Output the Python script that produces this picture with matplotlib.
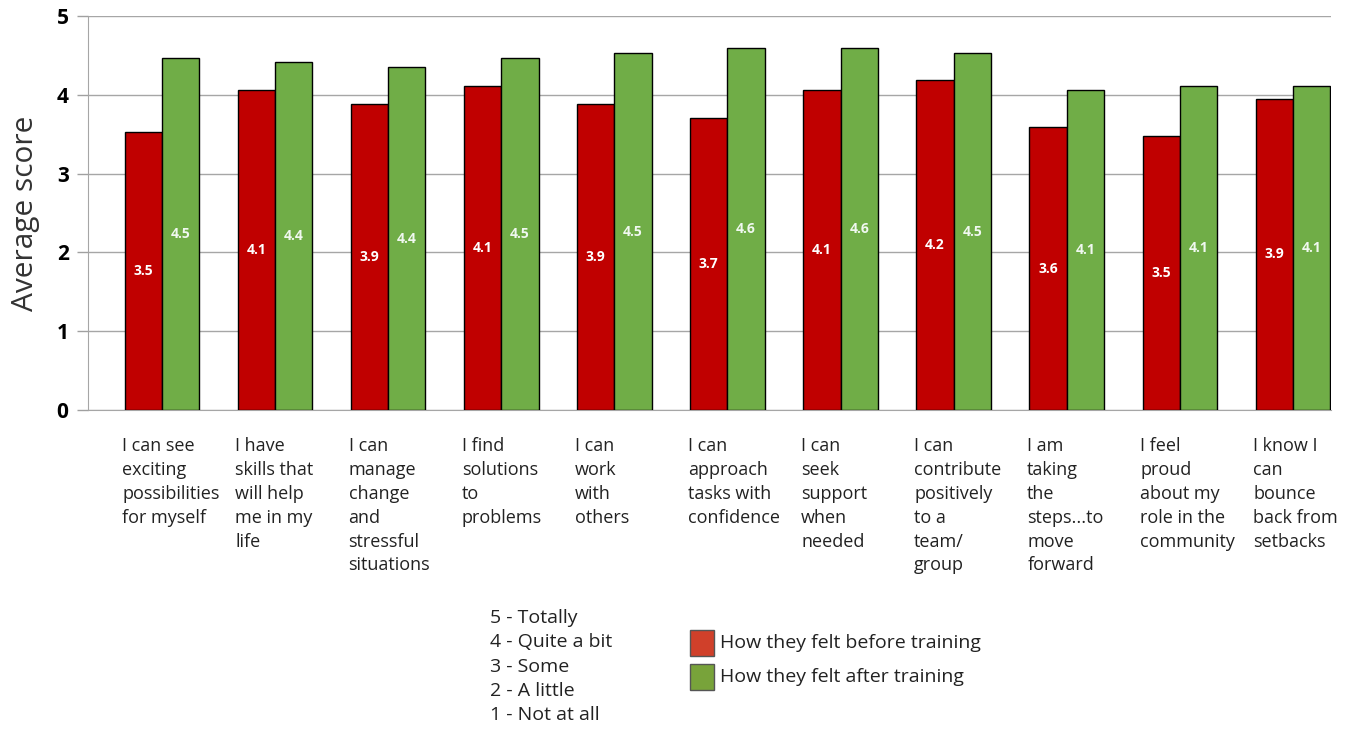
import matplotlib
matplotlib.use("Agg")
import matplotlib.pyplot as plt
import numpy as np
from matplotlib.patches import Rectangle

plt.rcParams['font.family'] = ['Open Sans', 'DejaVu Sans']

categories = [
    "I can see\nexciting\npossibilities\nfor myself",
    "I have\nskills that\nwill help\nme in my\nlife",
    "I can\nmanage\nchange\nand\nstressful\nsituations",
    "I find\nsolutions\nto\nproblems",
    "I can\nwork\nwith\nothers",
    "I can\napproach\ntasks with\nconfidence",
    "I can\nseek\nsupport\nwhen\nneeded",
    "I can\ncontribute\npositively\nto a\nteam/\ngroup",
    "I am\ntaking\nthe\nsteps...to\nmove\nforward",
    "I feel\nproud\nabout my\nrole in the\ncommunity",
    "I know I\ncan\nbounce\nback from\nsetbacks",
]
before = [3.53, 4.06, 3.88, 4.11, 3.88, 3.71, 4.06, 4.19, 3.59, 3.48, 3.95]
after = [4.47, 4.42, 4.35, 4.47, 4.53, 4.59, 4.59, 4.53, 4.06, 4.11, 4.11]
before_labels = ["3.5", "4.1", "3.9", "4.1", "3.9", "3.7", "4.1", "4.2", "3.6", "3.5", "3.9"]
after_labels = ["4.5", "4.4", "4.4", "4.5", "4.5", "4.6", "4.6", "4.5", "4.1", "4.1", "4.1"]
scale_text = ["5 - Totally", "4 - Quite a bit", "3 - Some", "2 - A little", "1 - Not at all"]
series_names = ["How they felt before training", "How they felt after training"]

W, H = 1349, 729
fig = plt.figure(figsize=(W / 100, H / 100), dpi=100)
ax = fig.add_axes([88 / W, 1 - 410 / H, (1331 - 88) / W, (410 - 16) / H])

x = np.arange(len(categories))
bw = 0.33
red = "#C00000"
green = "#70AD47"
ax.bar(x - bw / 2, before, bw, color=red, edgecolor="black", linewidth=1, zorder=3)
ax.bar(x + bw / 2, after, bw, color=green, edgecolor="black", linewidth=1, zorder=3)

for xi, v, lab in zip(x, before, before_labels):
    ax.text(xi - bw / 2, v / 2, lab, ha="center", va="center", color="white",
            fontsize=10, fontweight="bold", zorder=4)
for xi, v, lab in zip(x, after, after_labels):
    ax.text(xi + bw / 2, v / 2, lab, ha="center", va="center", color="#F0F8F0",
            fontsize=10, fontweight="bold", zorder=4)

ax.set_xlim(-0.654, 10.336)
ax.set_ylim(0, 5)
ax.set_yticks([0, 1, 2, 3, 4, 5])
ax.set_yticklabels(["0", "1", "2", "3", "4", "5"], fontsize=15, fontweight="bold")
ax.tick_params(axis="y", length=8, color="#A0A0A0", width=1, pad=6)
ax.set_xticks([])
ax.grid(axis="y", color="#A6A6A6", linewidth=1, zorder=0)
for s in ["top", "right"]:
    ax.spines[s].set_visible(False)
ax.spines["left"].set_color("#A6A6A6")
ax.spines["bottom"].set_color("#A6A6A6")
ax.set_ylabel("Average score", fontsize=21.5, color="#333333", labelpad=12)

# category labels
for xi, lab in zip(x, categories):
    ax.annotate(lab, xy=(xi - bw - 0.02, 0), xycoords="data",
                xytext=(0, -19.5), textcoords="offset points",
                ha="left", va="top", fontsize=13, color="#222222",
                linespacing=1.42, annotation_clip=False)

# scale text
fig.text(490 / W, 1 - 609 / H, "\n".join(scale_text), ha="left", va="top",
         fontsize=14, color="#222222", linespacing=1.45)

# legend
leg_colors = ["#D0402A", "#78A33A"]
ys = [643, 677]
for c, name, yc in zip(leg_colors, series_names, ys):
    fig.patches.append(Rectangle((690 / W, 1 - (yc + 13) / H), 24 / W, 26 / H,
                                 transform=fig.transFigure, facecolor=c,
                                 edgecolor="#555555", linewidth=1))
    fig.text(720 / W, 1 - yc / H, name, ha="left", va="center", fontsize=14,
             color="#222222")

fig.savefig("out.png", dpi=100)
